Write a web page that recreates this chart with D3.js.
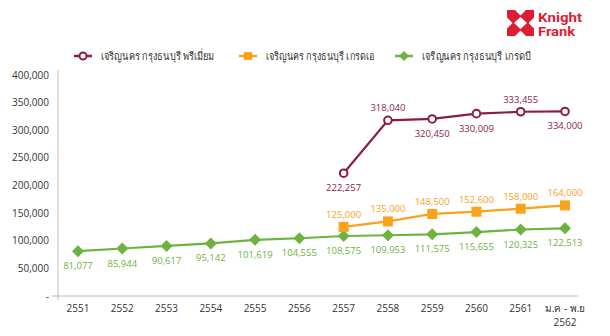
<!DOCTYPE html>
<html>
<head>
<meta charset="utf-8">
<script src="https://cdn.jsdelivr.net/npm/d3@7"></script>
<style>
  html, body { margin: 0; padding: 0; background: #fff; }
  svg { display: block; font-family: "Open Sans", "Noto Sans", sans-serif; }
</style>
</head>
<body>
<svg id="chart" width="610" height="336"></svg>
<script>
// Years (Buddhist era); the last period is Jan–Nov 2562
const years = ["2551", "2552", "2553", "2554", "2555", "2556", "2557", "2558", "2559", "2560", "2561", "ม.ค - พ.ย|2562"];

// Average price per sq.m. by grade (Charoen Nakhon – Krung Thonburi)
const premium = [null, null, null, null, null, null, 222257, 318040, 320450, 330009, 333455, 334000];
const gradeA  = [null, null, null, null, null, null, 125000, 135000, 148500, 152600, 158000, 164000];
const gradeB  = [81077, 85944, 90617, 95142, 101619, 104555, 108575, 109953, 111575, 115655, 120325, 122513];

const yTicks = [0, 50000, 100000, 150000, 200000, 250000, 300000, 350000, 400000];

const seriesNames = ["เจริญนคร กรุงธนบุรี พรีเมี่ยม", "เจริญนคร กรุงธนบุรี เกรดเอ", "เจริญนคร กรุงธนบุรี เกรดบี"];

// label side for each point: 1 = above, -1 = below
const premiumSide = [0, 0, 0, 0, 0, 0, -1, 1, -1, -1, 1, -1];

const svg = d3.select("#chart");

const x = d3.scalePoint().domain(years).range([78, 565]);
const y = d3.scaleLinear().domain([0, 400000]).range([296, 75]);

const fmt = d3.format(",");

// axes
svg.append("line").attr("x1", 58).attr("x2", 58).attr("y1", 70).attr("y2", 300)
  .attr("stroke", "#d4d4d4").attr("stroke-width", 1.5);
svg.append("line").attr("x1", 52).attr("x2", 578).attr("y1", 296).attr("y2", 296)
  .attr("stroke", "#b8b8b8").attr("stroke-width", 1);

const yAxis = svg.append("g");
yAxis.selectAll("text").data(yTicks).join("text")
  .attr("x", 49).attr("y", d => y(d)).attr("dy", "0.35em")
  .attr("text-anchor", "end").attr("font-size", 10).attr("fill", "#333")
  .text(d => d === 0 ? "-" : fmt(d));

const xAxis = svg.append("g");
xAxis.selectAll("text").data(years).join("text")
  .attr("x", d => x(d)).attr("y", 312)
  .attr("text-anchor", "middle").attr("font-size", 10).attr("fill", "#333")
  .each(function(d) {
    const parts = d.split("|");
    const t = d3.select(this);
    parts.forEach((p, i) => {
      t.append("tspan").attr("x", x(d)).attr("dy", i === 0 ? 0 : 14).text(p);
    });
  });

function drawSeries(values, color, marker, labelSide) {
  const pts = values.map((v, i) => ({ k: years[i], v, i })).filter(d => d.v != null);
  const line = d3.line().x(d => x(d.k)).y(d => y(d.v));
  svg.append("path").datum(pts).attr("d", line)
    .attr("fill", "none").attr("stroke", color).attr("stroke-width", 2.2);
  const g = svg.append("g");
  pts.forEach(d => {
    const cx = x(d.k), cy = y(d.v);
    if (marker === "circle") {
      g.append("circle").attr("cx", cx).attr("cy", cy).attr("r", 3.8)
        .attr("fill", "#fff").attr("stroke", color).attr("stroke-width", 2);
    } else if (marker === "square") {
      g.append("rect").attr("x", cx - 5).attr("y", cy - 5).attr("width", 10).attr("height", 10)
        .attr("fill", color);
    } else {
      g.append("path").attr("d", `M${cx},${cy - 6}L${cx + 6},${cy}L${cx},${cy + 6}L${cx - 6},${cy}Z`)
        .attr("fill", color);
    }
    const side = labelSide(d.i);
    g.append("text").attr("x", cx).attr("y", side > 0 ? cy - 9 : cy + 18)
      .attr("text-anchor", "middle").attr("font-size", 9.5).attr("fill", color)
      .text(fmt(d.v));
  });
}

const cPremium = "#8c1c45", cA = "#f8a31b", cB = "#6cb33f";
drawSeries(gradeB, cB, "diamond", () => -1);
drawSeries(gradeA, cA, "square", () => 1);
drawSeries(premium, cPremium, "circle", i => premiumSide[i]);

// legend
const legend = [
  { name: seriesNames[0], color: cPremium, marker: "circle", x: 74, w: 113 },
  { name: seriesNames[1], color: cA, marker: "square", x: 239, w: 109 },
  { name: seriesNames[2], color: cB, marker: "diamond", x: 395, w: 109 }
];
legend.forEach(l => {
  const g = svg.append("g").attr("transform", `translate(${l.x},56)`);
  g.append("line").attr("x1", 0).attr("x2", 18).attr("stroke", l.color).attr("stroke-width", 2.5);
  if (l.marker === "circle") g.append("circle").attr("cx", 9).attr("r", 3.5).attr("fill", "#fff").attr("stroke", l.color).attr("stroke-width", 2);
  else if (l.marker === "square") g.append("rect").attr("x", 5).attr("y", -4).attr("width", 8).attr("height", 8).attr("fill", l.color);
  else g.append("path").attr("d", "M9,-5L14,0L9,5L4,0Z").attr("fill", l.color);
  g.append("text").attr("x", 27).attr("dy", "0.35em").attr("font-size", 11).attr("fill", "#333")
    .attr("textLength", l.w).attr("lengthAdjust", "spacingAndGlyphs").text(l.name);
});

// brand mark
const logo = svg.append("g").attr("transform", "translate(507,10)");
logo.append("rect").attr("width", 27).attr("height", 26).attr("fill", "#dc1e35");
logo.append("path").attr("d", "M13.5,7L20,13L13.5,19L7,13Z").attr("fill", "#fff");
logo.append("path").attr("d", "M8,0L13.5,5.5L19,0Z M8,26L13.5,20.5L19,26Z M0,7.5L5.5,13L0,18.5Z M27,7.5L21.5,13L27,18.5Z").attr("fill", "#fff");
logo.append("text").attr("x", 31).attr("y", 11.5).attr("font-size", 13.5).attr("font-weight", "bold")
  .attr("font-family", "'Liberation Sans Narrow', 'Roboto', sans-serif").attr("fill", "#dc1e35")
  .attr("textLength", 44).attr("lengthAdjust", "spacingAndGlyphs").text("Knight");
logo.append("text").attr("x", 31).attr("y", 26).attr("font-size", 13.5).attr("font-weight", "bold")
  .attr("font-family", "'Liberation Sans Narrow', 'Roboto', sans-serif").attr("fill", "#dc1e35")
  .attr("textLength", 37).attr("lengthAdjust", "spacingAndGlyphs").text("Frank");
</script>
</body>
</html>
